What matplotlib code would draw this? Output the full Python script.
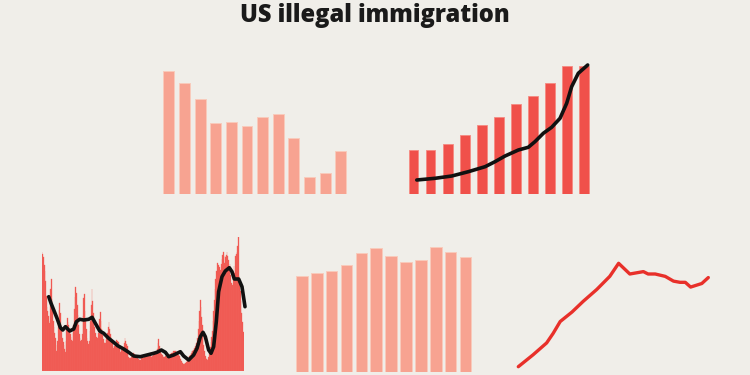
import numpy as np
import matplotlib
matplotlib.use('Agg')
import matplotlib.pyplot as plt

# colours -----------------------
bg = '#F0EEE9'
salmon = '#F7A391'
salmon_edge = '#F9CBBB'
red = '#F0504A'
red_edge = '#F58A82'
red_line = '#E8302A'
black = '#111111'
# -------------------------------

# top left: twelve falling bars
tl_vals = [1236, 1116, 953, 710, 726, 683, 773, 806, 560, 176, 216, 430]

# top right: eleven rising bars plus a trend line
tr_vals = [44, 44.7, 50.7, 59, 69.3, 77.3, 90.7, 98, 111, 128.7, 128.7]
tr_line_x = [0.19, 1.26, 2.24, 3.21, 4.19, 4.77, 5.36, 6.14, 6.72, 7.11, 7.60,
             8.09, 8.58, 8.97, 9.26, 9.65, 10.20]
tr_line_y = [14.3, 16, 18.3, 22.6, 27.6, 32.6, 38.3, 44.3, 47, 52.6, 61,
             67, 76, 91, 107.6, 121, 129.3]

# bottom left: monthly bars (24 years) plus smoothed line
monthly = [
    119, 117, 114, 106, 100, 90, 75, 64, 60, 55, 50, 48,
    82, 92, 72, 60, 50, 44, 38, 33, 26, 20, 30, 50,
    61, 68, 58, 46, 40, 33, 29, 26, 22, 19, 30, 46,
    53, 49, 46, 41, 37, 34, 31, 30, 38, 46, 62, 74,
    84, 78, 66, 56, 46, 37, 33, 30, 31, 37, 55, 73,
    77, 60, 50, 42, 33, 30, 27, 30, 40, 50, 66, 82,
    70, 58, 50, 44, 38, 34, 30, 33, 38, 44, 52, 59,
    50, 42, 36, 32, 29, 28, 28, 31, 34, 38, 44, 49,
    42, 37, 34, 31, 28, 25, 23, 25, 27, 29, 31, 30,
    29, 29, 24, 20, 19, 21, 22, 22, 23, 28, 33, 30,
    27, 25, 19, 14, 13, 13, 13, 14, 15, 17, 18, 17,
    16, 15, 14, 14, 13, 12, 12, 11, 11, 13, 16, 15,
    13, 14, 15, 16, 15, 15, 15, 16, 16, 17, 18, 16,
    14, 15, 17, 18, 18, 19, 19, 19, 22, 28, 32, 25,
    20, 18, 17, 16, 15, 14, 14, 15, 15, 14, 14, 15,
    16, 16, 17, 17, 18, 18, 19, 20, 20, 20, 20, 19,
    19, 18, 16, 15, 13, 12, 10, 9, 8, 7, 7, 8,
    8, 9, 9, 11, 12, 13, 15, 16, 18, 20, 20, 21,
    21, 23, 25, 27, 28, 33, 42, 50, 60, 71, 64, 54,
    46, 34, 26, 20, 15, 13, 12, 11, 12, 14, 18, 24,
    29, 34, 40, 50, 60, 71, 82, 92, 100, 108, 96, 106,
    104, 88, 101, 107, 112, 116, 119, 108, 115, 114, 116, 119,
    115, 111, 100, 107, 96, 88, 81, 86, 96, 105, 98, 115,
    117, 119, 125, 134, 95, 88, 80, 70, 58, 49, 39, 30,
]
bl_line_x = [9.5, 12.8, 16.6, 21.3, 26.1, 29.4, 33.2, 36.5, 39.3, 45.0, 48.8,
             53.5, 59.2, 66.3, 71.1, 75.8, 82.0, 87.6, 94.7, 101.8, 107.5,
             116.1, 123.2, 130.3, 139.7, 149.2, 158.7, 163.4, 169.6, 175.3,
             180.0, 187.1, 196.6, 201.3, 208.4, 215.5, 220.3, 225.0, 228.8,
             232.1, 236.8, 240.2, 243.9, 247.7, 251.0, 255.8, 260.5, 266.2,
             270.0, 273.3, 279.5, 284.2, 288.5]
bl_line_y = [74.3, 67.7, 61, 52.7, 43.3, 41, 44.3, 42, 40, 42, 49.3,
             51.7, 51, 51.7, 53.7, 47.7, 40, 37.7, 32.7, 28.7, 25.3,
             22, 18.7, 15, 14.3, 16, 17.7, 18.7, 21, 18.7,
             14.3, 16, 19.3, 15, 11, 16, 22.7, 34.3, 38.7,
             34.3, 21, 17.7, 24.3, 49.3, 79.3, 94.3, 100, 103.3,
             99.3, 92, 92, 84.3, 64.3]

# bottom middle: twelve flat-ish bars
bm_vals = [96, 98.7, 100.7, 106.7, 118.7, 123.4, 116, 110, 111.7, 124.4, 119.7, 115]

# bottom right: population line (millions)
br_years = [1990.0, 1992.5, 1994.8, 1995.9, 1997.1, 1999.1, 2001.0, 2003.3,
            2005.5, 2007.0, 2008.9, 2011.2, 2012.0, 2013.2, 2014.9, 2016.3,
            2017.4, 2018.3, 2019.2, 2021.1, 2022.2]
br_pop = [3.5, 4.5, 5.5, 6.3, 7.3, 8.1, 9.0, 10.0, 11.1, 12.2, 11.3, 11.5,
          11.3, 11.3, 11.1, 10.7, 10.6, 10.6, 10.2, 10.5, 11.0]


W, H = 750, 375
fig = plt.figure(figsize=(7.5, 3.75), dpi=100, facecolor=bg)


def px_axes(left, right, bottom, height):
    # axes placed in pixel coords measured from the top left
    ax = fig.add_axes([left / W, 1 - bottom / H, (right - left) / W, height / H])
    ax.set_facecolor('none')
    ax.axis('off')
    return ax


# top left
ax = px_axes(161, 348.6, 194.3, 123.6)
ax.bar(range(len(tl_vals)), tl_vals, width=0.70, color=salmon,
       edgecolor=salmon_edge, linewidth=0.7)
ax.set_xlim(-0.5, len(tl_vals) - 0.5)
ax.set_ylim(0, max(tl_vals))

# top right
ax = px_axes(405, 592.8, 194.3, 128.7)
ax.bar(range(len(tr_vals)), tr_vals, width=0.57, color=red,
       edgecolor=red_edge, linewidth=0.6)
ax.plot(tr_line_x, tr_line_y, color=black, lw=2.6, solid_capstyle='round',
        clip_on=False)
ax.set_xlim(-0.5, len(tr_vals) - 0.5)
ax.set_ylim(0, max(tr_vals))

# bottom left
ax = px_axes(41.7, 244.3, 371, 134)
ax.bar(range(len(monthly)), monthly, width=1.0, color=red,
       edgecolor='#F26A62', linewidth=0.25)
ax.plot(bl_line_x, bl_line_y, color=black, lw=2.6, solid_capstyle='round',
        clip_on=False)
ax.set_xlim(-0.5, len(monthly) - 0.5)
ax.set_ylim(0, max(monthly))

# bottom middle
ax = px_axes(294.4, 472.9, 371.7, 124.4)
ax.bar(range(len(bm_vals)), bm_vals, width=0.78, color=salmon,
       edgecolor=salmon_edge, linewidth=0.7)
ax.set_xlim(-0.5, len(bm_vals) - 0.5)
ax.set_ylim(0, max(bm_vals))

# bottom right
ax = px_axes(518.3, 708.3, 366.7, 103.4)
ax.plot(br_years, br_pop, color=red_line, lw=2.4, solid_capstyle='round',
        solid_joinstyle='round', clip_on=False)
ax.set_xlim(min(br_years), max(br_years))
ax.set_ylim(min(br_pop), max(br_pop))

fig.text(0.5, 1 - 15 / H, 'US illegal immigration', ha='center', va='center',
         fontsize=17, fontweight='heavy', family='Open Sans', color='#1A1A1A')

fig.savefig('out.png', dpi=100, facecolor=bg)
